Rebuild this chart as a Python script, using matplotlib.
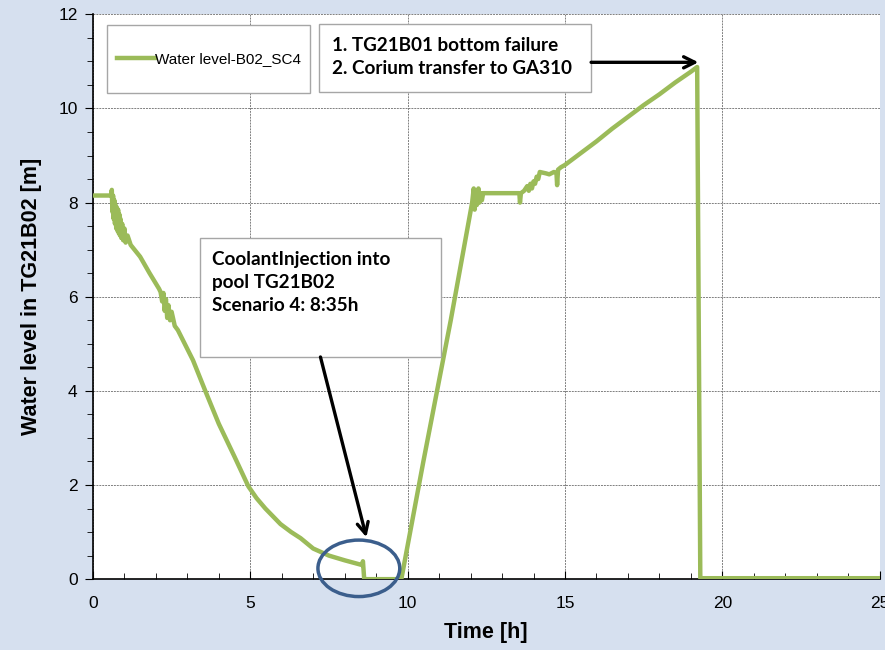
import matplotlib.pyplot as plt
from matplotlib.patches import Ellipse, Rectangle
from matplotlib.ticker import MultipleLocator

# time [h] and water level [m]
time_h = [0.0, 0.58, 0.60, 0.62, 0.64, 0.66, 0.68, 0.70, 0.72, 0.74, 0.76, 0.78, 0.80, 0.82,
          0.84, 0.86, 0.88, 0.90, 0.93, 0.96, 1.00, 1.04, 1.10, 1.20,
          1.50, 1.80, 2.10, 2.15, 2.20, 2.24, 2.28, 2.32, 2.36, 2.40, 2.45, 2.50, 2.60, 2.70,
          3.18, 3.57, 4.00, 4.50, 4.94, 5.20, 5.48, 5.96, 6.30, 6.60, 7.00, 7.50, 8.00,
          8.55, 8.58, 8.62, 9.00, 9.80, 10.50, 11.37, 12.05,
          12.10, 12.13, 12.17, 12.20, 12.25, 12.28, 12.32, 12.36, 12.40,
          13.55, 13.57, 13.60, 13.70, 13.80, 13.85, 13.90, 13.95, 14.00, 14.05, 14.10,
          14.15, 14.20, 14.40, 14.50, 14.65, 14.73, 14.75, 14.78, 14.87,
          15.0, 15.5, 16.0, 16.5, 17.0, 17.5, 18.0, 18.5, 19.0, 19.2,
          19.3, 22.0, 25.0]
level_m = [8.15, 8.15, 8.27, 7.80, 8.15, 7.65, 8.05, 7.55, 7.95, 7.45, 7.90, 7.40, 7.85, 7.35,
           7.75, 7.30, 7.65, 7.25, 7.55, 7.20, 7.45, 7.15, 7.30, 7.10,
           6.85, 6.50, 6.17, 6.10, 5.90, 6.08, 5.70, 5.95, 5.55, 5.82, 5.50, 5.68, 5.38, 5.29,
           4.65, 4.00, 3.30, 2.60, 1.97, 1.72, 1.50, 1.17, 1.00, 0.87, 0.65, 0.50, 0.40,
           0.30, 0.38, 0.0, 0.0, 0.0, 2.50, 5.50, 8.00,
           8.30, 7.85, 8.25, 7.95, 8.30, 8.00, 8.20, 8.05, 8.20,
           8.20, 8.00, 8.20, 8.25, 8.35, 8.25, 8.40, 8.30, 8.45, 8.40, 8.55,
           8.50, 8.65, 8.62, 8.60, 8.65, 8.62, 8.37, 8.70, 8.75,
           8.80, 9.05, 9.30, 9.57, 9.82, 10.07, 10.30, 10.55, 10.78, 10.88,
           0.02, 0.02, 0.02]

series_label = 'Water level-B02_SC4'
note1 = 'CoolantInjection into\npool TG21B02\nScenario 4: 8:35h'
note2 = '1. TG21B01 bottom failure\n2. Corium transfer to GA310'

bg = '#D6E0EF'
green = '#9BBB59'
box_ec = '#A6A6A6'

plt.rcParams['font.family'] = ['Liberation Sans', 'DejaVu Sans']

fig = plt.figure(figsize=(8.85, 6.5), dpi=100, facecolor=bg)
ax = fig.add_axes([0.105, 0.109, 0.889, 0.869])
ax.set_facecolor('white')

ax.plot(time_h, level_m, color=green, lw=3.2, label=series_label, zorder=3)

ax.set_xlim(0, 25)
ax.set_ylim(0, 12)
ax.xaxis.set_major_locator(MultipleLocator(5))
ax.xaxis.set_minor_locator(MultipleLocator(1))
ax.yaxis.set_major_locator(MultipleLocator(2))
ax.yaxis.set_minor_locator(MultipleLocator(0.5))
ax.tick_params(axis='x', which='both', direction='in', labelsize=12.5, pad=12)
ax.tick_params(axis='x', which='major', length=6)
ax.tick_params(axis='x', which='minor', length=4)
ax.tick_params(axis='y', which='both', direction='out', labelsize=12.5, pad=5)
ax.tick_params(axis='y', which='major', length=6)
ax.tick_params(axis='y', which='minor', length=4)
ax.grid(True, which='major', color='#808080', ls=(0, (2, 1)), lw=0.7)
for s in ['top', 'right']:
    ax.spines[s].set_visible(False)
ax.spines['left'].set_linewidth(1.2)
ax.spines['bottom'].set_linewidth(1.2)

ax.set_xlabel('Time [h]', fontsize=15.5, fontweight='bold', labelpad=8)
ax.set_ylabel('Water level in TG21B02 [m]', fontsize=15.5, fontweight='bold', labelpad=12)

# legend with its own wide frame
ax.add_patch(Rectangle((0.0178, 0.860), 0.258, 0.1205, transform=ax.transAxes,
                       fc='white', ec=box_ec, lw=1.0, zorder=4))
ax.legend(loc='center left', bbox_to_anchor=(0.0305, 0.921), frameon=False,
          borderpad=0, borderaxespad=0, handlelength=2.5, handletextpad=0.0,
          fontsize=11).set_zorder(5)

# annotation boxes
ax.add_patch(Rectangle((3.41, 4.72), 7.64, 2.52, fc='white', ec=box_ec, lw=1.0,
                       clip_on=False, zorder=4))
ax.text(3.79, 6.31, note1, fontsize=13.6, fontweight='bold', family=['Lato', 'DejaVu Sans'],
        va='center', ha='left', linespacing=1.43, zorder=5)
ax.add_patch(Rectangle((7.17, 10.34), 8.66, 1.45, fc='white', ec=box_ec, lw=1.0,
                       clip_on=False, zorder=4))
ax.text(7.61, 11.09, note2, fontsize=13.6, fontweight='bold', family=['Lato', 'DejaVu Sans'],
        va='center', ha='left', linespacing=1.43, zorder=5)

arrow = dict(arrowstyle='->', color='black', lw=2.4, mutation_scale=20, shrinkA=0, shrinkB=0)
ax.annotate('', xy=(8.69, 0.89), xytext=(7.23, 4.72), arrowprops=arrow, zorder=6)
ax.annotate('', xy=(19.24, 10.98), xytext=(15.83, 10.98), arrowprops=arrow, zorder=6)

ax.add_patch(Ellipse((8.45, 0.23), 2.6, 1.2, fill=False, ec='#3B5E8C', lw=2.5,
                     clip_on=False, zorder=6))

fig.savefig('out.png', dpi=100, facecolor=bg)
